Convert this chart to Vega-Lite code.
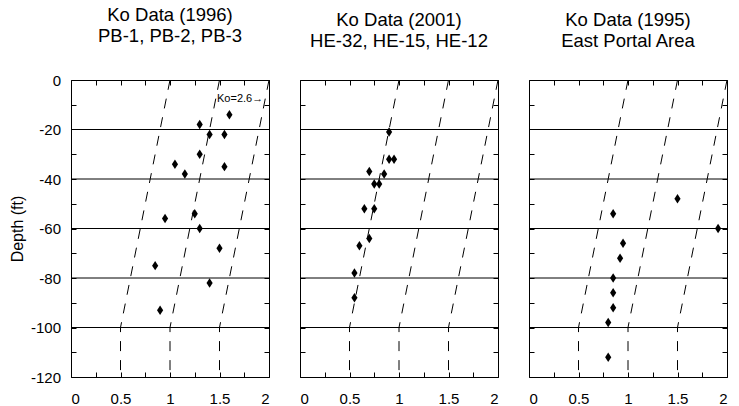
{
  "$schema": "https://vega.github.io/schema/vega-lite/v6.json",
  "background": "white",
  "padding": {"left": 8, "top": 5, "right": 5, "bottom": 5},
  "config": {
    "font": "Liberation Sans",
    "view": {"stroke": "black", "strokeWidth": 1},
    "axis": {"domain": false, "grid": false, "ticks": true, "tickColor": "black", "tickOpacity": 1, "tickWidth": 1, "tickSize": 5, "offset": -5, "zindex": 1, "labelColor": "black", "labelFont": "Liberation Sans", "labelFontSize": 15, "titleFont": "Liberation Sans", "titleFontSize": 16, "titleFontWeight": "normal", "titleColor": "black"},
    "axisX": {"labelPadding": 14},
    "axisY": {"labelPadding": 10.5},
    "title": {"font": "Liberation Sans", "fontSize": 18.5, "fontWeight": "normal", "color": "black", "offset": 28, "lineHeight": 21, "anchor": "middle"}
  },
  "datasets": {
    "grid": [{"depth": -20}, {"depth": -40}, {"depth": -60}, {"depth": -80}, {"depth": -100}],
    "kolines": [
      {"line": "a", "i": 0, "Ko": 1.0, "depth": 0},
      {"line": "a", "i": 1, "Ko": 0.5, "depth": -100},
      {"line": "a", "i": 2, "Ko": 0.5, "depth": -120},
      {"line": "b", "i": 0, "Ko": 1.5, "depth": 0},
      {"line": "b", "i": 1, "Ko": 1.0, "depth": -100},
      {"line": "b", "i": 2, "Ko": 1.0, "depth": -120},
      {"line": "c", "i": 0, "Ko": 2.0, "depth": 0},
      {"line": "c", "i": 1, "Ko": 1.5, "depth": -100},
      {"line": "c", "i": 2, "Ko": 1.5, "depth": -120}
    ],
    "p1996": [
      {"Ko": 1.6, "depth": -14}, {"Ko": 1.3, "depth": -18}, {"Ko": 1.4, "depth": -22}, {"Ko": 1.55, "depth": -22},
      {"Ko": 1.3, "depth": -30}, {"Ko": 1.05, "depth": -34}, {"Ko": 1.55, "depth": -35}, {"Ko": 1.15, "depth": -38},
      {"Ko": 1.25, "depth": -54}, {"Ko": 0.95, "depth": -56}, {"Ko": 1.3, "depth": -60}, {"Ko": 1.5, "depth": -68},
      {"Ko": 0.85, "depth": -75}, {"Ko": 1.4, "depth": -82}, {"Ko": 0.9, "depth": -93}
    ],
    "p2001": [
      {"Ko": 0.9, "depth": -21}, {"Ko": 0.9, "depth": -32}, {"Ko": 0.95, "depth": -32}, {"Ko": 0.7, "depth": -37},
      {"Ko": 0.85, "depth": -38}, {"Ko": 0.75, "depth": -42}, {"Ko": 0.8, "depth": -42}, {"Ko": 0.65, "depth": -52},
      {"Ko": 0.75, "depth": -52}, {"Ko": 0.7, "depth": -64}, {"Ko": 0.6, "depth": -67}, {"Ko": 0.55, "depth": -78},
      {"Ko": 0.55, "depth": -88}
    ],
    "p1995": [
      {"Ko": 1.5, "depth": -48}, {"Ko": 0.85, "depth": -54}, {"Ko": 1.91, "depth": -60}, {"Ko": 0.95, "depth": -66},
      {"Ko": 0.92, "depth": -72}, {"Ko": 0.85, "depth": -80}, {"Ko": 0.85, "depth": -86}, {"Ko": 0.85, "depth": -92},
      {"Ko": 0.8, "depth": -98}, {"Ko": 0.8, "depth": -112}
    ],
    "note": [{"Ko": 1.475, "depth": -7.7, "label": "Ko=2.6→"}]
  },
  "spacing": 27,
  "hconcat": [
    {
      "width": 198, "height": 297,
      "title": {"text": ["Ko Data (1996)", "PB-1, PB-2, PB-3"]},
      "layer": [
        {"data": {"name": "grid"}, "mark": {"type": "rule", "color": "black", "strokeWidth": 1},
         "encoding": {"y": {"field": "depth", "type": "quantitative", "scale": {"domain": [-120, 0], "nice": false}, "axis": null}}},
        {"data": {"name": "kolines"}, "mark": {"type": "line", "color": "black", "strokeWidth": 1, "strokeDash": [10, 9]},
         "encoding": {
           "x": {"field": "Ko", "type": "quantitative", "scale": {"domain": [0, 2], "nice": false}, "axis": {"orient": "top", "labels": false, "title": null, "values": [0, 0.25, 0.5, 0.75, 1, 1.25, 1.5, 1.75, 2]}},
           "y": {"field": "depth", "type": "quantitative", "scale": {"domain": [-120, 0], "nice": false}, "axis": {"orient": "right", "labels": false, "title": null, "values": [-120, -110, -100, -90, -80, -70, -60, -50, -40, -30, -20, -10, 0]}},
           "detail": {"field": "line"}, "order": {"field": "i"}}},
        {"data": {"name": "p1996"}, "mark": {"type": "point", "shape": "M0,-1L0.65,0L0,1L-0.65,0Z", "filled": true, "color": "black", "size": 90, "opacity": 1},
         "encoding": {
           "x": {"field": "Ko", "type": "quantitative", "scale": {"domain": [0, 2], "nice": false}, "axis": {"orient": "bottom", "title": null, "values": [0, 0.25, 0.5, 0.75, 1, 1.25, 1.5, 1.75, 2], "labelExpr": "datum.value % 0.5 === 0 ? '' + datum.value : ''"}},
           "y": {"field": "depth", "type": "quantitative", "scale": {"domain": [-120, 0], "nice": false}, "axis": {"orient": "left", "title": "Depth (ft)", "titlePadding": 5, "values": [-120, -110, -100, -90, -80, -70, -60, -50, -40, -30, -20, -10, 0], "labelExpr": "datum.value % 20 === 0 ? '' + datum.value : ''"}}}},
        {"data": {"name": "note"}, "mark": {"type": "text", "fontSize": 11, "align": "left", "baseline": "middle", "color": "black"},
         "encoding": {
           "x": {"field": "Ko", "type": "quantitative", "axis": null},
           "y": {"field": "depth", "type": "quantitative", "axis": null},
           "text": {"field": "label"}}}
      ],
      "resolve": {"axis": {"x": "independent", "y": "independent"}}
    },
    {
      "width": 198, "height": 297,
      "title": {"text": ["Ko Data (2001)", "HE-32, HE-15, HE-12"]},
      "layer": [
        {"data": {"name": "grid"}, "mark": {"type": "rule", "color": "black", "strokeWidth": 1},
         "encoding": {"y": {"field": "depth", "type": "quantitative", "scale": {"domain": [-120, 0], "nice": false}, "axis": null}}},
        {"data": {"name": "kolines"}, "mark": {"type": "line", "color": "black", "strokeWidth": 1, "strokeDash": [10, 9]},
         "encoding": {
           "x": {"field": "Ko", "type": "quantitative", "scale": {"domain": [0, 2], "nice": false}, "axis": {"orient": "top", "labels": false, "title": null, "values": [0, 0.25, 0.5, 0.75, 1, 1.25, 1.5, 1.75, 2]}},
           "y": {"field": "depth", "type": "quantitative", "scale": {"domain": [-120, 0], "nice": false}, "axis": {"orient": "right", "labels": false, "title": null, "values": [-120, -110, -100, -90, -80, -70, -60, -50, -40, -30, -20, -10, 0]}},
           "detail": {"field": "line"}, "order": {"field": "i"}}},
        {"data": {"name": "p2001"}, "mark": {"type": "point", "shape": "M0,-1L0.65,0L0,1L-0.65,0Z", "filled": true, "color": "black", "size": 90, "opacity": 1},
         "encoding": {
           "x": {"field": "Ko", "type": "quantitative", "scale": {"domain": [0, 2], "nice": false}, "axis": {"orient": "bottom", "title": null, "values": [0, 0.25, 0.5, 0.75, 1, 1.25, 1.5, 1.75, 2], "labelExpr": "datum.value % 0.5 === 0 ? '' + datum.value : ''"}},
           "y": {"field": "depth", "type": "quantitative", "scale": {"domain": [-120, 0], "nice": false}, "axis": {"orient": "left", "title": null, "labels": false, "values": [-120, -110, -100, -90, -80, -70, -60, -50, -40, -30, -20, -10, 0]}}}}
      ],
      "resolve": {"axis": {"x": "independent", "y": "independent"}}
    },
    {
      "width": 198, "height": 297,
      "title": {"text": ["Ko Data (1995)", "East Portal Area"]},
      "layer": [
        {"data": {"name": "grid"}, "mark": {"type": "rule", "color": "black", "strokeWidth": 1},
         "encoding": {"y": {"field": "depth", "type": "quantitative", "scale": {"domain": [-120, 0], "nice": false}, "axis": null}}},
        {"data": {"name": "kolines"}, "mark": {"type": "line", "color": "black", "strokeWidth": 1, "strokeDash": [10, 9]},
         "encoding": {
           "x": {"field": "Ko", "type": "quantitative", "scale": {"domain": [0, 2], "nice": false}, "axis": {"orient": "top", "labels": false, "title": null, "values": [0, 0.25, 0.5, 0.75, 1, 1.25, 1.5, 1.75, 2]}},
           "y": {"field": "depth", "type": "quantitative", "scale": {"domain": [-120, 0], "nice": false}, "axis": {"orient": "right", "labels": false, "title": null, "values": [-120, -110, -100, -90, -80, -70, -60, -50, -40, -30, -20, -10, 0]}},
           "detail": {"field": "line"}, "order": {"field": "i"}}},
        {"data": {"name": "p1995"}, "mark": {"type": "point", "shape": "M0,-1L0.65,0L0,1L-0.65,0Z", "filled": true, "color": "black", "size": 90, "opacity": 1},
         "encoding": {
           "x": {"field": "Ko", "type": "quantitative", "scale": {"domain": [0, 2], "nice": false}, "axis": {"orient": "bottom", "title": null, "values": [0, 0.25, 0.5, 0.75, 1, 1.25, 1.5, 1.75, 2], "labelExpr": "datum.value % 0.5 === 0 ? '' + datum.value : ''"}},
           "y": {"field": "depth", "type": "quantitative", "scale": {"domain": [-120, 0], "nice": false}, "axis": {"orient": "left", "title": null, "labels": false, "values": [-120, -110, -100, -90, -80, -70, -60, -50, -40, -30, -20, -10, 0]}}}}
      ],
      "resolve": {"axis": {"x": "independent", "y": "independent"}}
    }
  ]
}
